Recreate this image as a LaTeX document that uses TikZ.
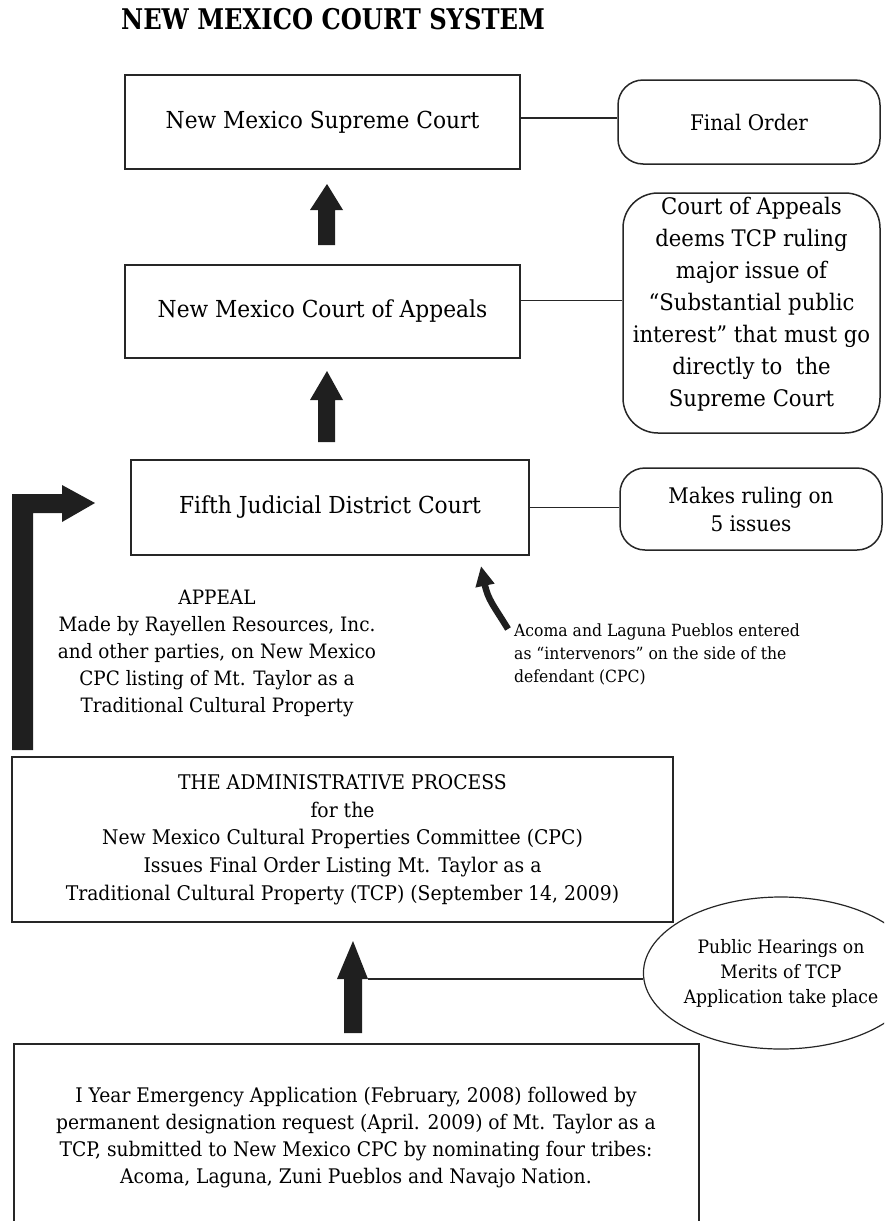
\documentclass[tikz,border=0pt]{standalone}
\usepackage{fontspec}
\setmainfont{DejaVu Serif}[FakeStretch=0.93]
\newfontfamily\titlefont{DejaVu Serif}[FakeStretch=0.85]
\usetikzlibrary{shapes.geometric,arrows.meta}
\begin{document}
\begin{tikzpicture}[x=1pt,y=-1pt,
  box/.style={draw=black!85, line width=1.5pt, inner sep=0pt},
  rbox/.style={draw=black!85, line width=1.5pt, rounded corners=25pt, inner sep=0pt},
  conn/.style={draw=black!85, line width=1.5pt},
  blk/.style={fill=black!88, draw=none},
  boxtitle/.style={font=\fontsize{23.4}{28}\selectfont},
  sidetxt/.style={font=\fontsize{21.5}{28}\selectfont, align=center}
]
\useasboundingbox (0,0) rectangle (884,1221);
\clip (0,0) rectangle (884,1221);

\node[font=\titlefont\fontsize{28.5}{32}\bfseries\selectfont] (title) at (333,19) {NEW MEXICO COURT SYSTEM};

% Supreme court
\node[box, minimum width=395pt, minimum height=94pt, boxtitle] (sc) at (322.5,122) {New Mexico Supreme Court};
\node[rbox, minimum width=262pt, minimum height=84pt, sidetxt] (fo) at (749,122) {Final Order};
\draw[conn] ([yshift=4pt]sc.east) -- ([yshift=4pt]sc.east -| fo.west);

% Court of appeals
\node[box, minimum width=395pt, minimum height=93pt, boxtitle] (ca) at (322.5,311.5) {New Mexico Court of Appeals};
\node[rbox, rounded corners=35pt, minimum width=257pt, minimum height=240pt] (cas) at (751.5,313) {};
\node[align=center, font=\fontsize{22.8}{32}\selectfont] (castxt) at (751.5,304)
  {Court of Appeals\\deems TCP ruling\\major issue of\\“Substantial public\\interest” that must go\\directly to\ \ the\\Supreme Court};
\draw[conn] ([yshift=11pt]ca.east) -- ([yshift=11pt]ca.east -| cas.west);

% Fifth district
\node[box, minimum width=398pt, minimum height=95pt, boxtitle] (fj) at (330,507.5) {Fifth Judicial District Court};
\node[rbox, minimum width=262pt, minimum height=82pt, sidetxt] (mr) at (751,509) {Makes ruling on\\5 issues};
\draw[conn] (fj.east) -- (fj.east -| mr.west);

% block arrows
\fill[blk] (327,184) -- (343,210) -- (335,210) -- (335,245) -- (318,245) -- (318,210) -- (310,210) -- cycle;
\fill[blk] (327,371) -- (343,400) -- (335,400) -- (335,442) -- (318,442) -- (318,400) -- (310,400) -- cycle;

% L arrow
\coordinate (lbase) at (12,750);
\fill[blk] (lbase) -- (12,494) -- (62,494) -- (62,485) -- (95,503) -- (62,522) -- (62,513) -- (33,513) -- (33,750) -- cycle;

% Appeal text
\node[align=center, font=\fontsize{19.8}{27}\selectfont] (appeal) at (217,653)
  {APPEAL\\Made by Rayellen Resources, Inc.\\and other parties, on New Mexico\\CPC listing of Mt. Taylor as a\\Traditional Cultural Property};

% intervenors
\node[align=left, anchor=north west, inner sep=0pt, font=\fontsize{16.8}{22.7}\selectfont] (acoma) at (514,624)
  {Acoma and Laguna Pueblos entered\\as “intervenors” on the side of the\\defendant (CPC)};
\coordinate (ctail) at (508,629);
\draw[black!88, line width=6.5pt, -{Triangle[length=20pt,width=18pt]}] (ctail) .. controls (494,606) and (488,600) .. (481,566);

% admin box
\node[box, minimum width=661pt, minimum height=165pt, align=center, font=\fontsize{20.2}{27.7}\selectfont] (adm) at (342.5,839.5)
  {THE ADMINISTRATIVE PROCESS\\for the\\New Mexico Cultural Properties Committee (CPC)\\Issues Final Order Listing Mt. Taylor as a\\Traditional Cultural Property (TCP) (September 14, 2009)};

% bottom arrow
\fill[blk] (353,941) -- (368,979) -- (362,979) -- (362,1033) -- (344,1033) -- (344,979) -- (337,979) -- cycle;

% ellipse
\node[draw=black!85, ellipse, line width=1.2pt, minimum width=226pt, minimum height=152pt, inner sep=0pt, align=center,
  font=\fontsize{18.5}{25}\selectfont] (ph) at (781,973)
  {Public Hearings on\\Merits of TCP\\Application take place};
\coordinate (ahead) at (368,979);
\draw[conn] (ahead) -- (ahead -| ph.west);

% bottom box
\node[box, minimum width=685pt, minimum height=196pt] (app) at (356.5,1142) {};
\node[align=center, font=\fontsize{20.1}{27}\selectfont] (apptxt) at (356,1138)
  {I Year Emergency Application (February, 2008) followed by\\permanent designation request (April. 2009) of Mt. Taylor as a\\TCP, submitted to New Mexico CPC by nominating four tribes:\\Acoma, Laguna, Zuni Pueblos and Navajo Nation.};
\end{tikzpicture}
\end{document}
